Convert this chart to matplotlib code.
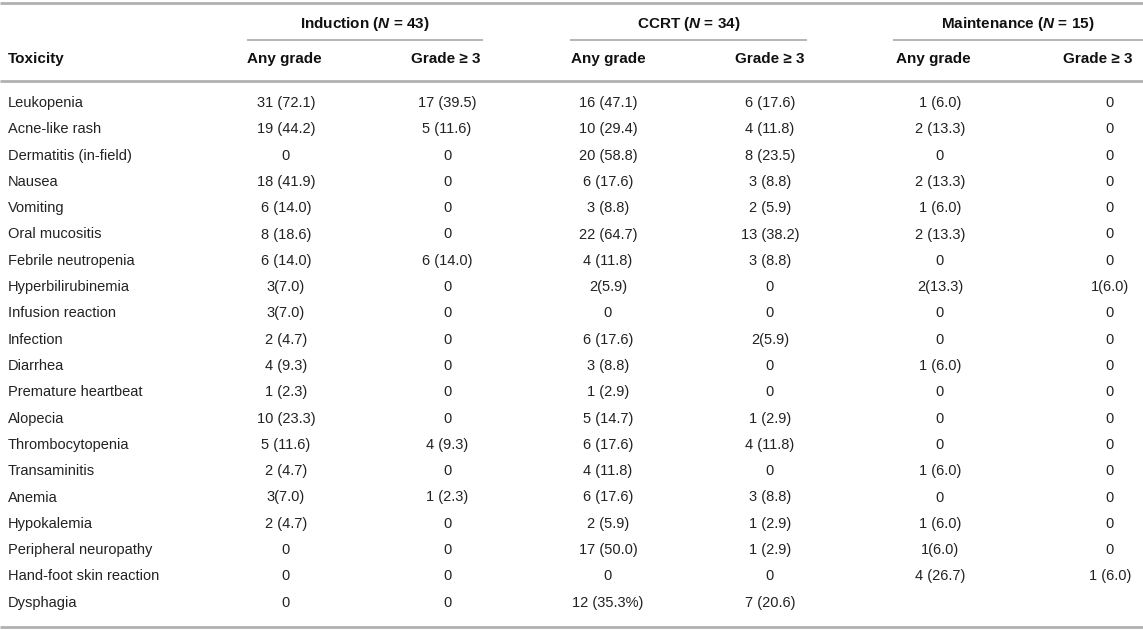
import matplotlib.pyplot as plt

# Table content
toxicities = ["Leukopenia", "Acne-like rash", "Dermatitis (in-field)", "Nausea", "Vomiting",
              "Oral mucositis", "Febrile neutropenia", "Hyperbilirubinemia", "Infusion reaction",
              "Infection", "Diarrhea", "Premature heartbeat", "Alopecia", "Thrombocytopenia",
              "Transaminitis", "Anemia", "Hypokalemia", "Peripheral neuropathy",
              "Hand-foot skin reaction", "Dysphagia"]

induction_any = ["31 (72.1)", "19 (44.2)", "0", "18 (41.9)", "6 (14.0)", "8 (18.6)", "6 (14.0)",
                 "3(7.0)", "3(7.0)", "2 (4.7)", "4 (9.3)", "1 (2.3)", "10 (23.3)", "5 (11.6)",
                 "2 (4.7)", "3(7.0)", "2 (4.7)", "0", "0", "0"]
induction_g3 = ["17 (39.5)", "5 (11.6)", "0", "0", "0", "0", "6 (14.0)", "0", "0", "0", "0", "0",
                "0", "4 (9.3)", "0", "1 (2.3)", "0", "0", "0", "0"]
ccrt_any = ["16 (47.1)", "10 (29.4)", "20 (58.8)", "6 (17.6)", "3 (8.8)", "22 (64.7)", "4 (11.8)",
            "2(5.9)", "0", "6 (17.6)", "3 (8.8)", "1 (2.9)", "5 (14.7)", "6 (17.6)", "4 (11.8)",
            "6 (17.6)", "2 (5.9)", "17 (50.0)", "0", "12 (35.3%)"]
ccrt_g3 = ["6 (17.6)", "4 (11.8)", "8 (23.5)", "3 (8.8)", "2 (5.9)", "13 (38.2)", "3 (8.8)", "0",
           "0", "2(5.9)", "0", "0", "1 (2.9)", "4 (11.8)", "0", "3 (8.8)", "1 (2.9)", "1 (2.9)",
           "0", "7 (20.6)"]
maint_any = ["1 (6.0)", "2 (13.3)", "0", "2 (13.3)", "1 (6.0)", "2 (13.3)", "0", "2(13.3)", "0",
             "0", "1 (6.0)", "0", "0", "0", "1 (6.0)", "0", "1 (6.0)", "1(6.0)", "4 (26.7)", ""]
maint_g3 = ["0", "0", "0", "0", "0", "0", "0", "1(6.0)", "0", "0", "0", "0", "0", "0", "0", "0",
            "0", "0", "1 (6.0)", ""]

groups = ["Induction", "CCRT", "Maintenance"]
group_n = [43, 34, 15]
sub_headers = ["Any grade", "Grade \u2265 3"]

columns = [induction_any, induction_g3, ccrt_any, ccrt_g3, maint_any, maint_g3]

# Layout (pixels)
W, H = 1143, 630
col_x = [286, 447, 608, 770, 940, 1110]
head_x = [284, 446, 608, 770, 933, 1098]
group_span = [(247, 483), (570, 807), (893, 1143)]
row_y0, row_dy = 103, 26.3

plt.rcParams['font.family'] = ['Liberation Sans', 'DejaVu Sans']
plt.rcParams['mathtext.fontset'] = 'custom'
plt.rcParams['mathtext.it'] = 'Liberation Sans:italic:bold'
plt.rcParams['mathtext.rm'] = 'Liberation Sans:bold'
plt.rcParams['mathtext.bf'] = 'Liberation Sans:bold'

fig = plt.figure(figsize=(W / 100, H / 100), dpi=100)
ax = fig.add_axes([0, 0, 1, 1])
ax.set_xlim(0, W)
ax.set_ylim(H, 0)
ax.axis('off')

line_col = '#b0b0b0'
fs = 10.5
hfs = 11
txt_col = '#222222'
head_col = '#111111'

# Rules
for yy in [3, 81, 627]:
    ax.plot([0, W], [yy, yy], color=line_col, lw=2.0, solid_capstyle='butt')
for x0, x1 in group_span:
    ax.plot([x0, x1], [40, 40], color=line_col, lw=1.3, solid_capstyle='butt')

# Group headers
for g, n, (x0, x1) in zip(groups, group_n, group_span):
    ax.text((x0 + x1) / 2, 24, f"{g} ($N$ = {n})", ha='center', va='center',
            fontsize=hfs, fontweight='bold', color=head_col)

# Column headers
ax.text(8, 59, "Toxicity", ha='left', va='center', fontsize=hfs, fontweight='bold', color=head_col)
for i, hx in enumerate(head_x):
    ax.text(hx, 59, sub_headers[i % 2], ha='center', va='center', fontsize=hfs,
            fontweight='bold', color=head_col)

# Body
for r, name in enumerate(toxicities):
    y = row_y0 + r * row_dy
    ax.text(8, y, name, ha='left', va='center', fontsize=fs, color=txt_col)
    for cx, col in zip(col_x, columns):
        ax.text(cx, y, col[r], ha='center', va='center', fontsize=fs, color=txt_col)

fig.savefig('out.png', dpi=100)
